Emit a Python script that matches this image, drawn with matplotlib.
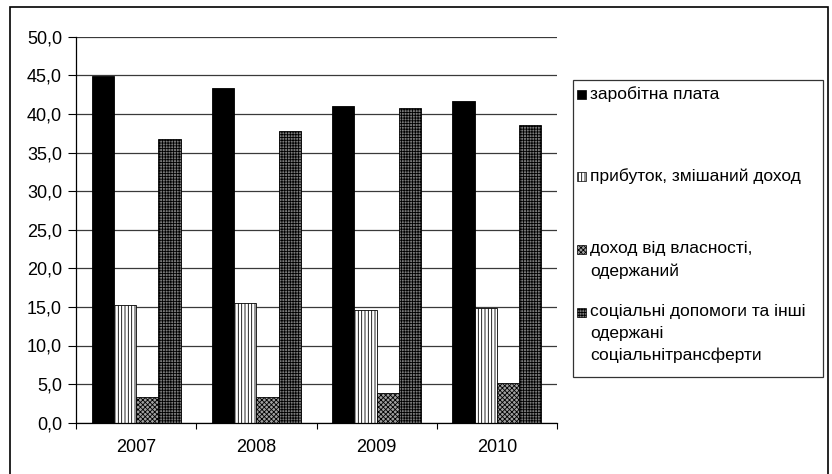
import numpy as np
import matplotlib.pyplot as plt
from matplotlib.patches import Rectangle
from matplotlib.ticker import FuncFormatter, MultipleLocator

plt.rcParams['font.family'] = ['Liberation Sans', 'DejaVu Sans']
plt.rcParams['hatch.linewidth'] = 0.6

# Structure of household income, %
years = ['2007', '2008', '2009', '2010']
wages = [44.9, 43.4, 41.0, 41.7]
profit = [15.3, 15.5, 14.6, 14.9]
property_income = [3.3, 3.3, 3.9, 5.2]
transfers = [36.8, 37.8, 40.7, 38.6]

labels = [
    'заробітна плата',
    'прибуток, змішаний доход',
    'доход від власності,\nодержаний',
    'соціальні допомоги та інші\nодержані\nсоціальнітрансферти',
]
series = [wages, profit, property_income, transfers]

# fill, hatch and edge for each series
styles = [
    dict(facecolor='black', hatch=None, edgecolor='black'),
    dict(facecolor='white', hatch='|||||', edgecolor='black'),
    dict(facecolor='#a0a0a0', hatch='xxxxxxx', edgecolor='black'),
    dict(facecolor='#7a7a7a', hatch='++++++', edgecolor='black'),
]

W, H = 832, 474
fig = plt.figure(figsize=(W / 100, H / 100), dpi=100)
ax = fig.add_axes([76 / W, 1 - 422.7 / H, 481 / W, 386 / H])

x = np.arange(len(years))
width = 0.185
for i, (vals, st) in enumerate(zip(series, styles)):
    ax.bar(x + (i - 1.5) * width, vals, width, linewidth=0.6, zorder=2, **st)

ax.set_xlim(-0.5, len(years) - 0.5)
ax.set_ylim(0, 50)
ax.yaxis.set_major_locator(MultipleLocator(5))
ax.yaxis.set_major_formatter(FuncFormatter(lambda v, p: f'{v:.1f}'.replace('.', ',')))
ax.grid(axis='y', color='#3a3a3a', linewidth=0.9, zorder=0)
ax.set_axisbelow(True)

# category labels sit between boundary ticks
ax.set_xticks(np.arange(len(years) + 1) - 0.5)
ax.set_xticklabels([])
ax.set_xticks(x, minor=True)
ax.set_xticklabels(years, minor=True, fontsize=13)
ax.tick_params(axis='x', which='major', direction='out', length=4, width=0.8)
ax.tick_params(axis='x', which='minor', length=0, pad=12)
ax.tick_params(axis='y', direction='out', length=6, width=0.8, labelsize=13, pad=4)

for side in ('top', 'right'):
    ax.spines[side].set_visible(False)
ax.spines['left'].set_linewidth(0.9)
ax.spines['bottom'].set_linewidth(0.9)

# legend box with handles aligned to the first text line
lx0, lx1, ly0, ly1 = 573, 823, 80, 377
fig.patches.append(Rectangle((lx0 / W, 1 - ly1 / H), (lx1 - lx0) / W, (ly1 - ly0) / H,
                             transform=fig.transFigure, facecolor='white',
                             edgecolor='#333333', linewidth=0.9))
entry_tops = [86, 168, 241, 304]
for top, lab, st in zip(entry_tops, labels, styles):
    fig.patches.append(Rectangle((577 / W, 1 - (top + 13) / H), 9 / W, 9 / H,
                                 transform=fig.transFigure, linewidth=0.5, **st))
    fig.text(590 / W, 1 - top / H, lab, fontsize=12.5, va='top', ha='left',
             linespacing=1.57)

# outer chart frame
fig.patches.append(Rectangle((10 / W, -0.05), 818 / W, 1.05 - 7 / H,
                             transform=fig.transFigure, fill=False,
                             edgecolor='black', linewidth=1.2))

fig.savefig('out.png', dpi=100)
